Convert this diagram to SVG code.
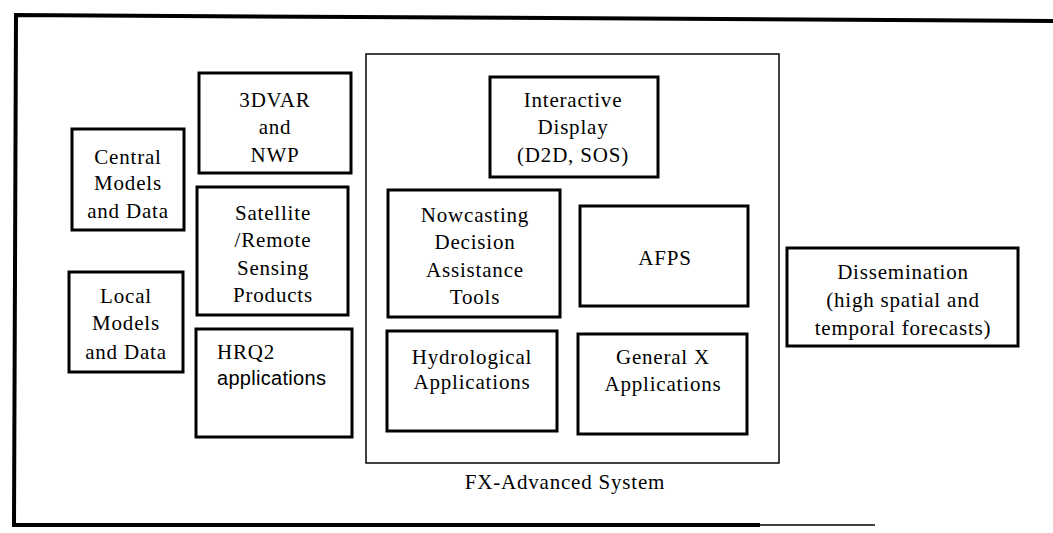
<svg xmlns="http://www.w3.org/2000/svg" width="1053" height="533" viewBox="0 0 1053 533">
<style>
.box{fill:none;stroke:#000;stroke-width:3}
.frame{fill:none;stroke:#000;stroke-width:4}
.cont{fill:none;stroke:#000;stroke-width:1.5}
text{font-family:"Liberation Serif","Times New Roman",serif;font-size:21px;letter-spacing:0.8px;fill:#000;text-anchor:middle}
.sans{font-family:"Liberation Sans",Arial,sans-serif;font-size:20px;letter-spacing:0.3px;text-anchor:start}
.left{text-anchor:start}
</style>
<rect width="1053" height="533" fill="#fff"/>
<g id="frame">
<path class="frame" d="M1053 21 L16 15 L14 525 L760 525"/>
<path d="M760 525 L875 525" stroke="#000" stroke-width="1.5" fill="none"/>
</g>
<g id="fx-advanced-system">
<rect class="cont" x="366" y="54" width="413" height="409"/>
<text x="565" y="489">FX-Advanced System</text>
</g>
<g id="central">
<rect class="box" x="72" y="129" width="112" height="101"/>
<text x="128" y="164">Central</text>
<text x="128" y="190">Models</text>
<text x="128" y="218">and Data</text>
</g>
<g id="local">
<rect class="box" x="69" y="272" width="114" height="100"/>
<text x="126" y="303">Local</text>
<text x="126" y="330">Models</text>
<text x="126" y="359">and Data</text>
</g>
<g id="threedvar">
<rect class="box" x="199" y="73" width="152" height="100"/>
<text x="275" y="107">3DVAR</text>
<text x="275" y="134">and</text>
<text x="275" y="162">NWP</text>
</g>
<g id="satellite">
<rect class="box" x="197" y="187" width="151" height="128"/>
<text x="273" y="220">Satellite</text>
<text x="273" y="247">/Remote</text>
<text x="273" y="275">Sensing</text>
<text x="273" y="302">Products</text>
</g>
<g id="hrq2">
<rect class="box" x="196" y="329" width="156" height="108"/>
<text class="left" x="217" y="359">HRQ2</text>
<text class="sans" x="217" y="385">applications</text>
</g>
<g id="interactive">
<rect class="box" x="490" y="77" width="168" height="100"/>
<text x="573" y="107">Interactive</text>
<text x="573" y="134">Display</text>
<text x="573" y="162">(D2D, SOS)</text>
</g>
<g id="nowcasting">
<rect class="box" x="388" y="190" width="172" height="127"/>
<text x="475" y="222">Nowcasting</text>
<text x="475" y="249">Decision</text>
<text x="475" y="277">Assistance</text>
<text x="475" y="304">Tools</text>
</g>
<g id="afps">
<rect class="box" x="580" y="206" width="168" height="100"/>
<text x="665" y="265">AFPS</text>
</g>
<g id="hydrological">
<rect class="box" x="387" y="331" width="170" height="100"/>
<text x="472" y="364">Hydrological</text>
<text x="472" y="389">Applications</text>
</g>
<g id="generalx">
<rect class="box" x="578" y="334" width="169" height="100"/>
<text x="663" y="364">General X</text>
<text x="663" y="391">Applications</text>
</g>
<g id="dissemination">
<rect class="box" x="787" y="248" width="231" height="98"/>
<text x="903" y="279">Dissemination</text>
<text x="903" y="307">(high spatial and</text>
<text x="903" y="335">temporal forecasts)</text>
</g>
<g id="connectors"></g>
</svg>
